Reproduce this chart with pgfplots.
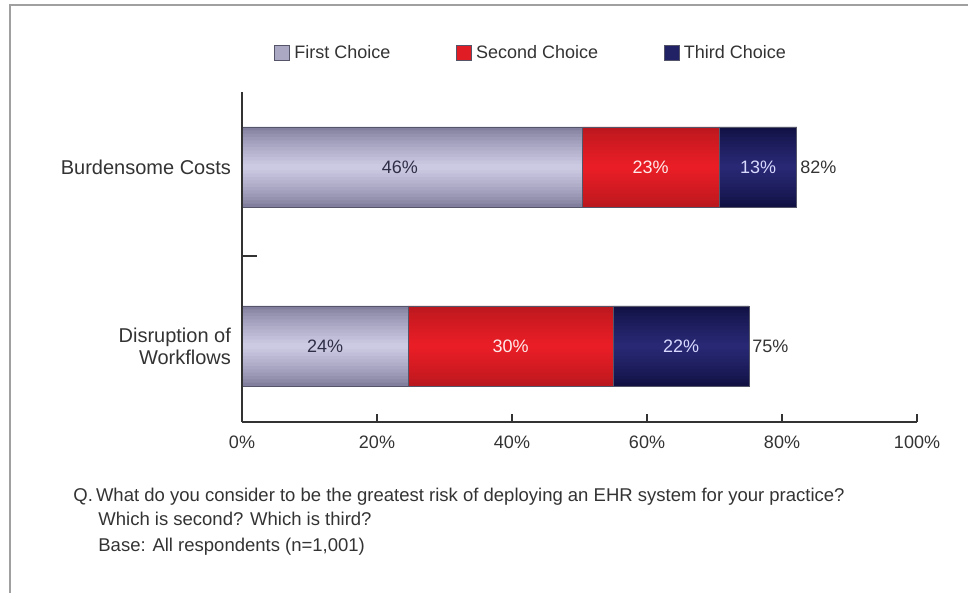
\documentclass[border=0pt]{standalone}
\usepackage{fontspec}
\setmainfont{Liberation Sans}
\usepackage{pgfplots}
\pgfplotsset{compat=1.18}
\definecolor{txt}{HTML}{333333}
\definecolor{fA}{HTML}{827F9E}
\definecolor{fB}{HTML}{CCC9E3}
\definecolor{sA}{HTML}{BA171E}
\definecolor{sB}{HTML}{E91D25}
\definecolor{tA}{HTML}{111144}
\definecolor{tB}{HTML}{282874}
\definecolor{frame}{HTML}{A0A0A0}
\definecolor{edge}{HTML}{55556A}
\pgfplotstableread{
y first second third
1 50.4 20.3 11.5
0 24.6 30.4 20.1
}\bars
\pgfplotsset{
  base/.style={
    at={(121pt,85.5pt)}, anchor=south west,
    scale only axis, width=337.5pt, height=165pt,
    xmin=0, xmax=100, ymin=-0.425, ymax=1.419,
  },
}
\begin{document}
\begin{tikzpicture}[x=0.5pt,y=0.5pt]
\path[use as bounding box] (0,0) rectangle (968,593);
\draw[frame, line width=1pt] (10,0) -- (10,588) -- (968,588);
% base bars (full width, edge colour)
\begin{axis}[base, hide axis, xbar stacked, bar width=0.447]
\addplot[draw=none, fill=fA] table[x=first, y=y] {\bars};
\addplot[draw=none, fill=sA] table[x=second, y=y] {\bars};
\addplot[draw=none, fill=tA] table[x=third, y=y] {\bars};
\end{axis}
% layers giving the vertical gradient
\foreach \k in {1,...,11}{
  \pgfmathsetmacro{\w}{0.447*(1-\k/12)}
  \pgfmathsetmacro{\m}{100*(\k/11)^0.8}
  \begin{axis}[base, hide axis, xbar stacked, bar width=\w]
  \addplot[draw=none, fill=fB!\m!fA] table[x=first, y=y] {\bars};
  \addplot[draw=none, fill=sB!\m!sA] table[x=second, y=y] {\bars};
  \addplot[draw=none, fill=tB!\m!tA] table[x=third, y=y] {\bars};
  \end{axis}
}
% outlines
\begin{axis}[base, hide axis, xbar stacked, bar width=0.447]
\addplot[draw=edge, line width=0.4pt, fill=none] table[x=first, y=y] {\bars};
\addplot[draw=edge, line width=0.4pt, fill=none] table[x=second, y=y] {\bars};
\addplot[draw=edge, line width=0.4pt, fill=none] table[x=third, y=y] {\bars};
\end{axis}
% axis lines, ticks, legend, value labels
\begin{axis}[
  base,
  /pgf/number format/assume math mode=true,
  axis x line=bottom, axis y line=left,
  axis line style={txt, line width=0.9pt, -},
  xtick={0,20,...,100},
  xticklabel={\pgfmathprintnumber{\tick}\%},
  xticklabel style={font=\fontsize{9}{11}\selectfont, text=txt, yshift=-3.5pt},
  tick align=inside, major tick length=4pt,
  tick style={txt, line width=0.9pt},
  ytick={0,1},
  yticklabels={{Disruption of\\Workflows}, {Burdensome Costs}},
  yticklabel style={align=right, font=\fontsize{10}{11}\selectfont, text=txt, xshift=-2pt},
  major y tick style={draw=none},
  minor ytick={0.5}, minor tick length=7.5pt,
  minor y tick style={draw=txt, line width=1pt},
  legend style={at={(0.43,1.118)}, anchor=center, draw=none, fill=none,
    legend columns=3, font=\fontsize{9}{11}\selectfont, text=txt,
    /tikz/every even column/.append style={column sep=31pt},
    inner sep=0pt},
  legend image code/.code={\draw[#1, draw=edge, line width=0.4pt] (0pt,-3.75pt) rectangle (7.5pt,3.75pt);},
  nodes near coords={\pgfmathprintnumber{\pgfplotspointmeta}\%},
  point meta=explicit,
]
\addlegendimage{fill=fB!55!fA}
\addlegendentry{First Choice}
\addlegendimage{fill=sB!80!sA}
\addlegendentry{Second Choice}
\addlegendimage{fill=tB!70!tA}
\addlegendentry{Third Choice}
\addplot[draw=none, mark=none, forget plot, nodes near coords style={anchor=center, text=txt!90!blue, font=\fontsize{9}{11}\selectfont}]
  table[meta=v] {
x y v
23.4 1 46
12.3 0 24
};
\addplot[draw=none, mark=none, forget plot, nodes near coords style={anchor=center, text=white!92!red, font=\fontsize{9}{11}\selectfont}]
  table[meta=v] {
x y v
60.55 1 23
39.8 0 30
};
\addplot[draw=none, mark=none, forget plot, nodes near coords style={anchor=center, text=white!85!blue, font=\fontsize{9}{11}\selectfont}]
  table[meta=v] {
x y v
76.45 1 13
65.05 0 22
};
\addplot[draw=none, mark=none, forget plot, nodes near coords style={anchor=west, inner sep=1.5pt, text=txt, font=\fontsize{9}{11}\selectfont}]
  table[meta=v] {
x y v
82.2 1 82
75.1 0 75
};
\end{axis}
\node[anchor=west, text=txt, font=\fontsize{9.25}{10}\selectfont, inner sep=0pt] at (73,96) {Q.\,What do you consider to be the greatest risk of deploying an EHR system for your practice?};
\node[anchor=west, text=txt, font=\fontsize{9.25}{10}\selectfont, inner sep=0pt] at (98,74) {Which is second? Which is third?};
\node[anchor=west, text=txt, font=\fontsize{9.25}{10}\selectfont, inner sep=0pt] at (98,46) {Base: All respondents (n=1,001)};
\end{tikzpicture}
\end{document}
